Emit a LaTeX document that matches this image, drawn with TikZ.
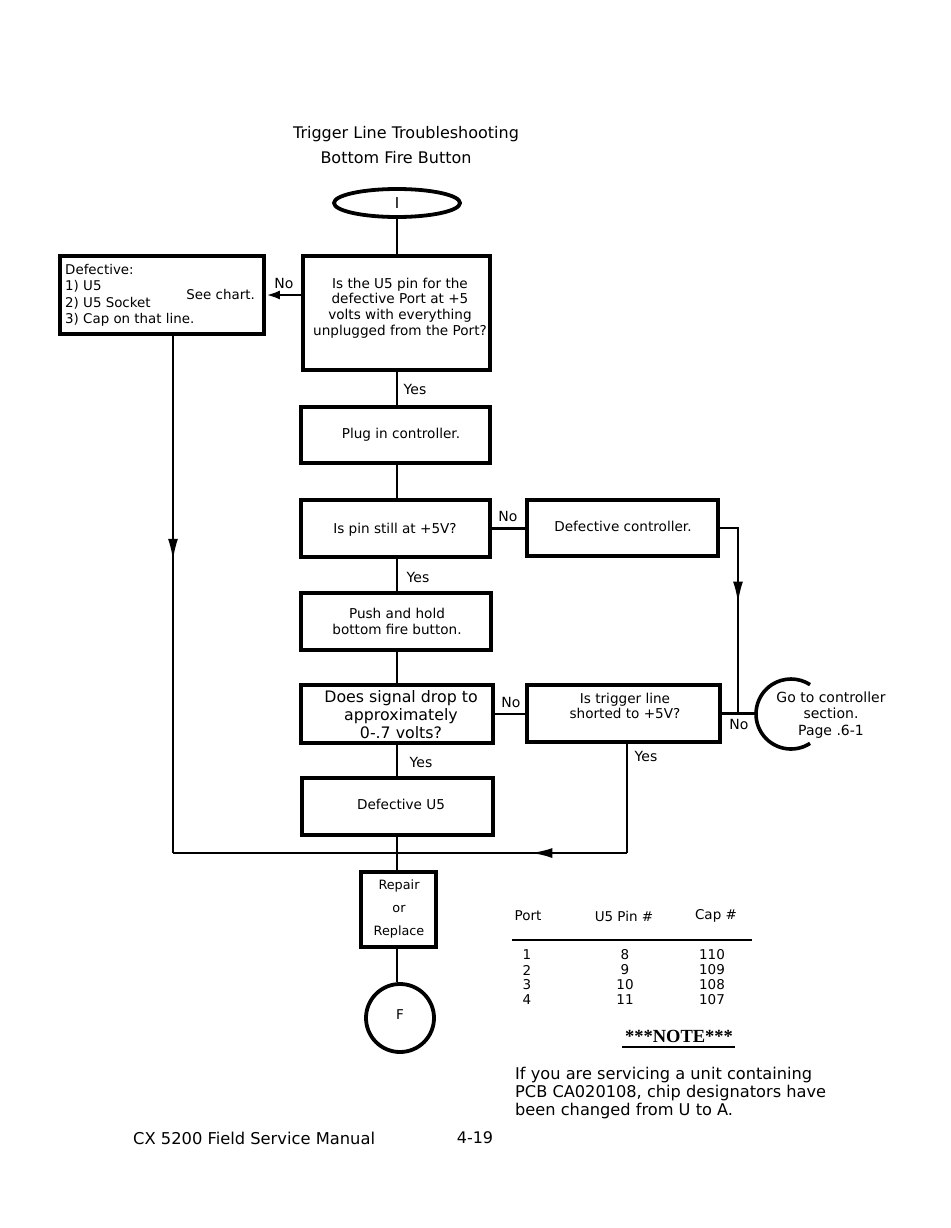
\documentclass[tikz,border=0pt]{standalone}
\usepackage{fontspec}
\setmainfont{DejaVu Sans}
\newfontfamily\notefont{Liberation Serif}
\usetikzlibrary{arrows.meta,decorations.markings}
\tikzset{
  boxnode/.style={draw, line width=3.8pt, inner sep=0pt},
  conn/.style={line width=2.8pt},
  lbl/.style={font=\fontsize{14}{16}\selectfont, inner sep=0pt},
  boxtext/.style={font=\fontsize{13.6}{15.8}\selectfont, align=center, inner sep=0pt},
  tbl/.style={font=\fontsize{13.5}{15}\selectfont, inner sep=0pt},
  tip/.tip={Latex[length=22pt,width=10pt]},
  midarrow/.style={postaction={decorate}, decoration={markings, mark=at position #1 with {\arrow{tip}}}}
}
\begin{document}
\begin{tikzpicture}[x=1pt,y=-1pt]
\useasboundingbox[fill=white] (0,0) rectangle (950,1228);

% title
\node[font=\fontsize{16}{18}\selectfont, inner sep=0pt] (t1) at (406,134) {Trigger Line Troubleshooting};
\node[font=\fontsize{16}{18}\selectfont, inner sep=0pt] (t2) at (396,158) {Bottom Fire Button};

% start ellipse
\draw[line width=3.8pt] (397,203) ellipse[x radius=63, y radius=14];
\node[font=\fontsize{15}{17}\selectfont, inner sep=0pt, minimum width=126pt, minimum height=28pt] (st) at (397,203) {I};

% boxes
\node[boxnode, minimum width=187pt, minimum height=114pt] (q1) at (396.5,313) {};
\node[boxtext] at (400,308) {Is the U5 pin for the\\defective Port at +5\\volts with everything\\unplugged from the Port?};

\node[boxnode, minimum width=204pt, minimum height=78pt] (lb) at (162,295) {};
\node[anchor=north west, align=left, inner sep=0pt, font=\fontsize{13.4}{16.4}\selectfont] at (65,264) {Defective:\\1) U5\\2) U5 Socket\\3) Cap on that line.};
\node[font=\fontsize{13.4}{15}\selectfont, inner sep=0pt, anchor=east] at (255,295) {See chart.};

\node[boxnode, minimum width=189pt, minimum height=56pt] (b2) at (395.5,435) {};
\node[boxtext] at (401,435) {Plug in controller.};

\node[boxnode, minimum width=189pt, minimum height=57pt] (b3) at (395.5,528.5) {};
\node[boxtext] at (395,530) {Is pin still at +5V?};

\node[boxnode, minimum width=191pt, minimum height=56pt] (b4) at (622.5,528) {};
\node[boxtext] at (623,526) {Defective controller.};

\node[boxnode, minimum width=190pt, minimum height=57pt] (b5) at (396,621.5) {};
\node[boxtext] at (397,621.5) {Push and hold\\bottom fire button.};

\node[boxnode, minimum width=192pt, minimum height=58pt] (b7) at (397,714) {};
\node[boxtext, font=\fontsize{15.8}{18}\selectfont] at (401,715) {Does signal drop to\\approximately\\0-.7 volts?};

\node[boxnode, minimum width=193pt, minimum height=57pt] (b6) at (623.5,713.5) {};
\node[boxtext] at (625,706) {Is trigger line\\shorted to +5V?};

\node[boxnode, minimum width=191pt, minimum height=57pt] (b8) at (397.5,806.5) {};
\node[boxtext] at (401,804) {Defective U5};

\node[boxnode, minimum width=75pt, minimum height=75pt] (b9) at (398.5,909.5) {};
\node[boxtext, font=\fontsize{12.8}{23}\selectfont] at (399,909) {Repair\\or\\Replace};

% end circle
\node[draw, circle, line width=3.8pt, minimum size=68pt, inner sep=0pt, font=\fontsize{13.5}{15}\selectfont] (fin) at (400,1018) {\raisebox{6pt}{F}};

% go-to connector (open circle)
\node[circle, minimum size=70pt, inner sep=0pt] (gc) at (791,714) {};
\draw[line width=3.6pt] (gc.center) ++(57:35) arc[start angle=57, end angle=303, radius=35];
\node[boxtext, font=\fontsize{14}{16.5}\selectfont] at (831,715) {Go to controller\\section.\\Page .6-1};

% junction coordinates
\coordinate (j1) at (397,853);
\coordinate (c1) at (173,853);
\coordinate (c2) at (738,713.5);
\coordinate (c3) at (627,853);

% connectors
\draw[conn] (st.south) -- (st.south |- q1.north);
\draw[conn, -{Latex[length=14pt,width=9pt]}] (q1.west |- lb.east) -- (lb.east);
\draw[conn] (q1.south -| j1) -- (b2.north -| j1);
\draw[conn] (b2.south -| j1) -- (b3.north -| j1);
\draw[conn] (b3.east) -- (b4.west |- b3.east);
\draw[conn, midarrow=0.46] (b4.east) -- (b4.east -| c2) -- (c2);
\draw[conn] (b3.south -| j1) -- (b5.north -| j1);
\draw[conn] (b5.south -| j1) -- (b7.north -| j1);
\draw[conn] (b7.east) -- (b6.west |- b7.east);
\draw[conn] (b6.east) -- (gc.west |- b6.east);
\draw[conn] (b7.south -| j1) -- (b8.north -| j1);
\draw[conn, midarrow=0.435] (lb.south -| c1) -- (c1);
\draw[conn] (c1) -- (j1);
\draw[conn] (b6.south -| c3) -- (c3);
\draw[conn, midarrow=0.42] (c3) -- (j1);
\draw[conn] (b8.south -| j1) -- (b9.north -| j1);
\draw[conn] (b9.south -| j1) -- (fin.north -| j1);

% connector labels
\node[lbl] at (284,283) {No};
\node[lbl] at (415,389) {Yes};
\node[lbl] at (508,516) {No};
\node[lbl] at (418,577) {Yes};
\node[lbl] at (511,702) {No};
\node[lbl] at (739,724) {No};
\node[lbl] at (421,762) {Yes};
\node[lbl] at (646,756) {Yes};

% table
\node[tbl] at (528,916) {Port};
\node[tbl] at (624,916) {U5 Pin \#};
\node[tbl] at (716,916) {Cap \#};
\draw[line width=1.8pt] (512,940) -- (752,940);
\foreach \p/\u/\c [count=\i] in {1/8/110,2/9/109,3/10/108,4/11/107}{
  \node[tbl] at (527,940+15*\i) {\p};
  \node[tbl] at (625,940+15*\i) {\u};
  \node[tbl] at (712,940+15*\i) {\c};
}
\node[font=\notefont\bfseries\fontsize{18.5}{20}\selectfont, inner sep=0pt] (note) at (679,1036) {***NOTE***};
\draw[line width=1.8pt] (622,1047) -- (735,1047);
\node[anchor=west, align=left, inner sep=0pt, font=\fontsize{16.2}{18}\selectfont] at (515,1093) {If you are servicing a unit containing\\PCB CA020108, chip designators have\\been changed from U to A.};

% footer
\node[anchor=west, inner sep=0pt, font=\fontsize{16.3}{18}\selectfont] at (133,1138) {CX 5200 Field Service Manual};
\node[inner sep=0pt, font=\fontsize{16}{18}\selectfont] at (475,1138) {4-19};
\end{tikzpicture}
\end{document}
